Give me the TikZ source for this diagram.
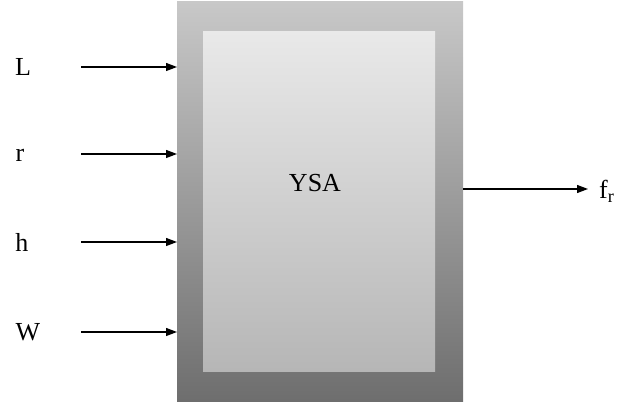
\documentclass[tikz,border=0pt]{standalone}
\usepackage{fontspec}
\setmainfont{Liberation Serif}
\usetikzlibrary{arrows.meta}
\definecolor{outertop}{HTML}{C8C8C8}
\definecolor{outerbot}{HTML}{6E6E6E}
\definecolor{innertop}{HTML}{E9E9E9}
\definecolor{innerbot}{HTML}{B6B6B6}
\tikzset{
  lbl/.style={font=\fontsize{26}{30}\selectfont, inner sep=0pt},
  conn/.style={line width=1.2pt, -{Triangle[length=11pt,width=8pt]}},
}
\begin{document}
\begin{tikzpicture}[x=1pt,y=1pt]
\useasboundingbox (0,0) rectangle (638,407);
% outer box
\node[draw=none, shading=axis, top color=outertop, bottom color=outerbot,
      minimum width=286pt, minimum height=400pt, anchor=north west, inner sep=0pt] (box) at (177,406) {};
\node[shading=axis, top color=innertop, bottom color=innerbot,
      minimum width=232pt, minimum height=340pt, anchor=north west, inner sep=0pt] (inner) at (203,376) {};
\node[lbl] (ysa) at (315,224) {YSA};
% inputs
\node[lbl] (L) at (23,340) {L};
\node[lbl] (r) at (20,252) {r};
\node[lbl] (h) at (22,165) {h};
\node[lbl] (W) at (28,75) {W};
\coordinate (sL) at (81,340);
\coordinate (sr) at (81,253);
\coordinate (sh) at (81,165);
\coordinate (sW) at (81,75);
\draw[conn] (sL) -- (sL -| box.west);
\draw[conn] (sr) -- (sr -| box.west);
\draw[conn] (sh) -- (sh -| box.west);
\draw[conn] (sW) -- (sW -| box.west);
% output
\node[lbl, anchor=west] (fr) at (599,216) {f\textsubscript{r}};
\coordinate (eO) at (588,218);
\draw[conn] (eO -| box.east) -- (eO);
\end{tikzpicture}
\end{document}
